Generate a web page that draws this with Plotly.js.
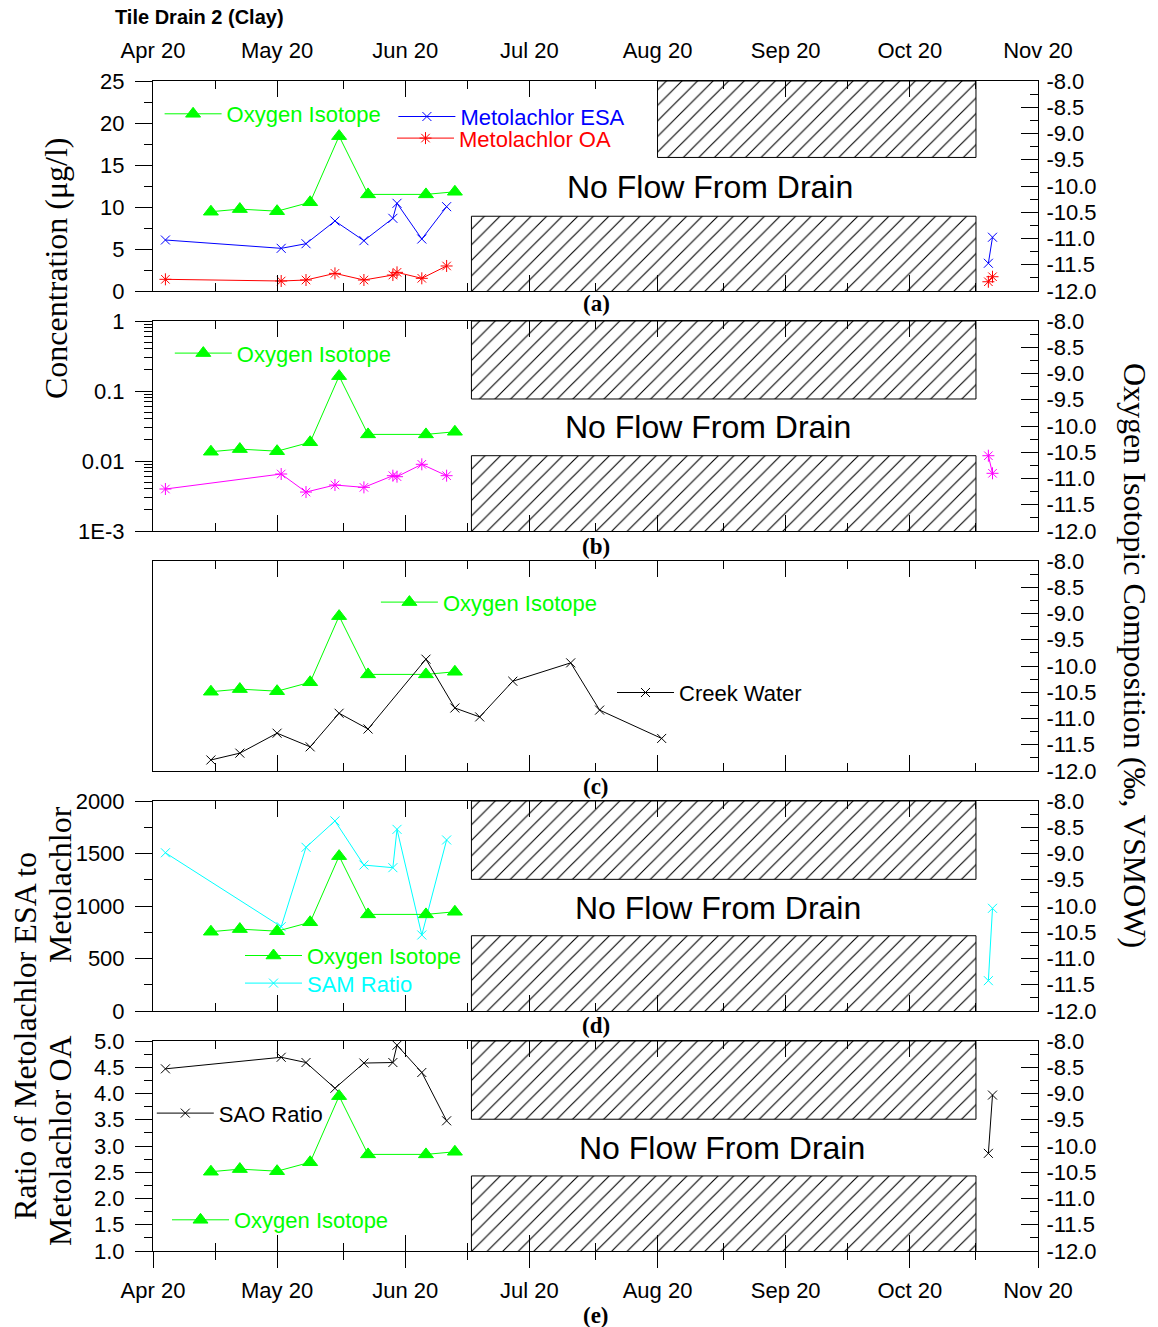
<!DOCTYPE html>
<html><head><meta charset="utf-8">
<script src="https://cdn.plot.ly/plotly-3.0.1.min.js"></script>
<style>body{margin:0;background:#fff}</style>
</head><body>
<div id="chart" style="width:1158px;height:1327px"></div>
<script>
// ---------- axis tick labels ----------
const monthTickVals = ['2000-04-20','2000-05-20','2000-06-20','2000-07-20','2000-08-20','2000-09-20','2000-10-20','2000-11-20'];
const monthTickText = ['Apr 20','May 20','Jun 20','Jul 20','Aug 20','Sep 20','Oct 20','Nov 20'];
const monthMinorVals = ['2000-05-05','2000-06-05','2000-07-05','2000-08-05','2000-09-05','2000-10-05','2000-11-05'];
const isoTickVals = [-12,-11.5,-11,-10.5,-10,-9.5,-9,-8.5,-8];
const isoTickText = ['-12.0','-11.5','-11.0','-10.5','-10.0','-9.5','-9.0','-8.5','-8.0'];
const concTickVals = [0,5,10,15,20,25];
const logTickVals = [0.001,0.01,0.1,1];
const logTickText = ['1E-3','0.01','0.1','1'];
const logMinorVals = [0.002,0.003,0.004,0.005,0.006,0.007,0.008,0.009,0.02,0.03,0.04,0.05,0.06,0.07,0.08,0.09,0.2,0.3,0.4,0.5,0.6,0.7,0.8,0.9];
const samTickVals = [0,500,1000,1500,2000];
const samTickText = ['0','500','1000','1500','2000'];
const saoTickVals = [1,1.5,2,2.5,3,3.5,4,4.5,5];
const saoTickText = ['1.0','1.5','2.0','2.5','3.0','3.5','4.0','4.5','5.0'];

// ---------- data ----------
const isoDates = ['2000-05-04','2000-05-11','2000-05-20','2000-05-28','2000-06-04','2000-06-11','2000-06-25','2000-07-02'];
const oxygenIsotope = [-10.49,-10.44,-10.48,-10.31,-9.05,-10.16,-10.16,-10.11];

const sampleDates = ['2000-04-23','2000-05-21','2000-05-27','2000-06-03','2000-06-10','2000-06-17','2000-06-18','2000-06-24','2000-06-30'];
const lateDates = ['2000-11-08','2000-11-09'];

const metolachlorESA = [6.07,5.08,5.63,8.33,5.99,8.65,10.44,6.19,10.04];
const metolachlorESALate = [3.3,6.4];
const metolachlorOA = [1.39,1.19,1.31,2.10,1.31,1.90,2.22,1.51,2.98];
const metolachlorOALate = [1.1,1.7];
const metolachlor = [0.00398,0.00652,0.0036,0.00454,0.0042,0.00617,0.00597,0.00897,0.00617];
const metolachlorLate = [0.0119,0.00667];
const samRatio = [1507,803,1559,1810,1390,1365,1730,724,1629];
const samRatioLate = [289,978];
const saoRatio = [4.47,4.69,4.59,4.10,4.58,4.59,4.92,4.40,3.48];
const saoRatioLate = [2.86,3.97];

const creekDates = ['2000-05-04','2000-05-11','2000-05-20','2000-05-28','2000-06-04','2000-06-11','2000-06-25','2000-07-02','2000-07-08','2000-07-16','2000-07-30','2000-08-06','2000-08-21'];
const creekWater = [-11.79,-11.66,-11.28,-11.54,-10.90,-11.20,-9.87,-10.80,-10.97,-10.29,-9.94,-10.84,-11.38];

// no-flow (hatched) periods, in data units of each panel's left axis
const noFlowStart = '2000-07-06';
const noFlowStartUpperA = '2000-08-20';
const noFlowEnd = '2000-11-05';
const noFlowA = {upper:[15.9,25], lower:[-0.3,8.9]};
const noFlowB = {upper:[0.0769,1], lower:[0.0009,0.0119]};
const noFlowD = {upper:[1254,2000], lower:[-20,717]};
const noFlowE = {upper:[3.51,5], lower:[0.96,2.43]};

// ---------- styles ----------
const GREEN='#00ff00', BLUE='#0000ff', RED='#ff0000', MAGENTA='#ff00ff', CYAN='#00ffff', BLACK='#000000';
const SANS='Liberation Sans, Arial, sans-serif';
const SERIF='Liberation Serif, Times New Roman, serif';
const TICKFONT={family:SANS,size:22,color:'#000'};
const LEGFONT=22;

function hatch(x0,x1,yr,xa,ya){
  return {x:[x0,x1,x1,x0,x0], y:[yr[0],yr[0],yr[1],yr[1],yr[0]], xaxis:xa, yaxis:ya,
    type:'scatter', mode:'lines', fill:'toself', line:{color:'#000',width:1},
    fillcolor:'white',
    fillpattern:{shape:'/', size:11, solidity:0.1, fgcolor:'#000', bgcolor:'#fff'},
    hoverinfo:'skip', showlegend:false};
}
function series(x,y,xa,ya,color,symbol,size,name,legend,show){
  return {x:x,y:y,xaxis:xa,yaxis:ya,type:'scatter',mode:'lines+markers',name:name,
    legend:legend,showlegend:show,
    line:{color:color,width:1},
    marker:{color:color,symbol:symbol,size:size,line:{color:color,width:1}},
    cliponaxis:false};
}
function oxy(xa,ya,legend){
  return series(isoDates,oxygenIsotope,xa,ya,GREEN,'triangle-up',13,'Oxygen Isotope',legend,true);
}
function empty(xa,ya){
  return {x:[],y:[],xaxis:xa,yaxis:ya,type:'scatter',mode:'lines',showlegend:false,hoverinfo:'skip'};
}

const traces = [
  empty('x3','y5'),
  hatch(noFlowStartUpperA,noFlowEnd,noFlowA.upper,'x','y'),
  hatch(noFlowStart,noFlowEnd,noFlowA.lower,'x','y'),
  hatch(noFlowStart,noFlowEnd,noFlowB.upper,'x2','y3'),
  hatch(noFlowStart,noFlowEnd,noFlowB.lower,'x2','y3'),
  hatch(noFlowStart,noFlowEnd,noFlowD.upper,'x4','y7'),
  hatch(noFlowStart,noFlowEnd,noFlowD.lower,'x4','y7'),
  hatch(noFlowStart,noFlowEnd,noFlowE.upper,'x5','y9'),
  hatch(noFlowStart,noFlowEnd,noFlowE.lower,'x5','y9'),
  // panel a
  series(sampleDates,metolachlorESA,'x','y',BLUE,'x-thin-open',9,'Metolachlor ESA','legend2',true),
  series(lateDates,metolachlorESALate,'x','y',BLUE,'x-thin-open',9,'Metolachlor ESA','legend2',false),
  series(sampleDates,metolachlorOA,'x','y',RED,'asterisk-open',10,'Metolachlor OA','legend3',true),
  series(lateDates,metolachlorOALate,'x','y',RED,'asterisk-open',10,'Metolachlor OA','legend3',false),
  oxy('x','y2','legend'),
  // panel b
  series(sampleDates,metolachlor,'x2','y3',MAGENTA,'asterisk-open',10,'Metolachlor','legend4',false),
  series(lateDates,metolachlorLate,'x2','y3',MAGENTA,'asterisk-open',10,'Metolachlor','legend4',false),
  oxy('x2','y4','legend4'),
  // panel c
  oxy('x3','y6','legend5'),
  series(creekDates,creekWater,'x3','y6',BLACK,'x-thin-open',9,'Creek Water','legend6',true),
  // panel d
  oxy('x4','y8','legend7'),
  series(sampleDates,samRatio,'x4','y7',CYAN,'x-thin-open',9,'SAM Ratio','legend8',true),
  series(lateDates,samRatioLate,'x4','y7',CYAN,'x-thin-open',9,'SAM Ratio','legend8',false),
  // panel e
  series(sampleDates,saoRatio,'x5','y9',BLACK,'x-thin-open',9,'SAO Ratio','legend9',true),
  series(lateDates,saoRatioLate,'x5','y9',BLACK,'x-thin-open',9,'SAO Ratio','legend9',false),
  oxy('x5','y10','legend10'),
  empty('x6','y9')
];

// ---------- layout ----------
const ML=153, MR=120, MT=81, MB=76, W=1158, H=1327;
const PW=W-ML-MR, PH=H-MT-MB;
const px2x = p => (p-ML)/PW;
const py2y = p => (H-MB-p)/PH;
const dom = (top,bot) => [py2y(bot), py2y(top)];
const panels = {a:dom(81,291), b:dom(321,531), c:dom(561,771), d:dom(801,1011), e:dom(1041,1251)};
const xRange = [monthTickVals[0], monthTickVals[monthTickVals.length-1]];

function xax(anchor, extra){
  return Object.assign({domain:[0,1], anchor:anchor, type:'date', range:xRange,
    tickmode:'array', tickvals:monthTickVals, ticktext:monthTickText,
    ticks:'inside', ticklen:16, tickwidth:1, tickcolor:'#000',
    minor:{tickmode:'array', tickvals:monthMinorVals, ticks:'inside', ticklen:8, tickwidth:1, tickcolor:'#000', showgrid:false},
    showline:true, linecolor:'#000', linewidth:1, mirror:'ticks',
    showgrid:false, zeroline:false, showticklabels:false, tickfont:TICKFONT, fixedrange:true}, extra||{});
}
function yLeft(domain, anchor, extra){
  return Object.assign({domain:domain, anchor:anchor, side:'left',
    ticks:'outside', ticklen:17, tickwidth:1, tickcolor:'#000',
    showline:true, linecolor:'#000', linewidth:1, showgrid:false, zeroline:false,
    tickfont:TICKFONT, ticklabelstandoff:6, fixedrange:true}, extra);
}
function yRight(domain, overlay, anchor){
  return {domain:domain, overlaying:overlay, anchor:anchor, side:'right', range:[-12,-8],
    tickmode:'array', tickvals:isoTickVals, ticktext:isoTickText,
    ticks:'inside', ticklen:17, tickwidth:1, tickcolor:'#000',
    minor:{dtick:0.25, tick0:-12, ticks:'inside', ticklen:8, tickwidth:1, tickcolor:'#000', showgrid:false},
    showline:true, linecolor:'#000', linewidth:1, showgrid:false, zeroline:false,
    tickfont:TICKFONT, ticklabelstandoff:3, fixedrange:true};
}

function leg(textStartPx, centerPy, color){
  return {x:px2x(textStartPx-69), y:py2y(centerPy), xref:'paper', yref:'paper',
    xanchor:'left', yanchor:'middle', bgcolor:'rgba(0,0,0,0)', borderwidth:0,
    font:{family:SANS, size:LEGFONT, color:color}, itemwidth:57, itemclick:false, itemdoubleclick:false,
    tracegroupgap:0};
}

const annFont = (s,c,f) => ({family:f||SANS, size:s, color:c||'#000'});
const annotations = [
  {text:'<b>Tile Drain 2 (Clay)</b>', x:px2x(113), y:py2y(17), xanchor:'left', yanchor:'middle', font:annFont(20)},
  {text:'Concentration (μg/l)', x:px2x(56), y:py2y(268), textangle:-90, font:annFont(32,'#000',SERIF)},
  {text:'Ratio of Metolachlor ESA to', x:px2x(25), y:py2y(1036), textangle:-90, font:annFont(32,'#000',SERIF)},
  {text:'Metolachlor', x:px2x(60), y:py2y(885), textangle:-90, font:annFont(32,'#000',SERIF)},
  {text:'Metolachlor OA', x:px2x(60), y:py2y(1141), textangle:-90, font:annFont(32,'#000',SERIF)},
  {text:'Oxygen Isotopic Composition (‰, VSMOW)', x:px2x(1135), y:py2y(655), textangle:90, font:annFont(32,'#000',SERIF)},
  {text:'<b>(a)</b>', x:px2x(596), y:py2y(303), font:annFont(23,'#000',SERIF)},
  {text:'<b>(b)</b>', x:px2x(596), y:py2y(546.7), font:annFont(23,'#000',SERIF)},
  {text:'<b>(c)</b>', x:px2x(596), y:py2y(786.7), font:annFont(23,'#000',SERIF)},
  {text:'<b>(d)</b>', x:px2x(596), y:py2y(1025), font:annFont(23,'#000',SERIF)},
  {text:'<b>(e)</b>', x:px2x(596), y:py2y(1315), font:annFont(23,'#000',SERIF)},
  {text:'No Flow From Drain', x:px2x(710), y:py2y(187), font:annFont(32)},
  {text:'No Flow From Drain', x:px2x(708), y:py2y(427), font:annFont(32)},
  {text:'No Flow From Drain', x:px2x(718), y:py2y(908), font:annFont(32)},
  {text:'No Flow From Drain', x:px2x(722), y:py2y(1148), font:annFont(32)}
].map(a => Object.assign({xref:'paper', yref:'paper', showarrow:false, xanchor:'center', yanchor:'middle'}, a));

const layout = {
  width:W, height:H, margin:{l:ML, r:MR, t:MT, b:MB, pad:0},
  paper_bgcolor:'#fff', plot_bgcolor:'rgba(0,0,0,0)',
  font:{family:SANS, size:21, color:'#000'},
  showlegend:true,
  xaxis: xax('y', {side:'top', showticklabels:true, ticklabelstandoff:13}),
  xaxis2: xax('y3', {matches:'x'}),
  xaxis3: xax('y5', {matches:'x'}),
  xaxis4: xax('y7', {matches:'x'}),
  xaxis5: xax('y9', {matches:'x', side:'bottom', ticks:'outside', mirror:false, showticklabels:true, ticklabelstandoff:4,
                     minor:{tickmode:'array', tickvals:monthMinorVals, ticks:'outside', ticklen:8, tickwidth:1, tickcolor:'#000', showgrid:false}}),
  xaxis6: xax('y9', {overlaying:'x5'}),
  yaxis: yLeft(panels.a,'x',{range:[0,25], tickmode:'array', tickvals:concTickVals,
          minor:{dtick:2.5, tick0:0, ticks:'outside', ticklen:8, tickwidth:1, tickcolor:'#000', showgrid:false}}),
  yaxis2: yRight(panels.a,'y','x'),
  yaxis3: yLeft(panels.b,'x2',{type:'log', range:[-3,0], tickmode:'array', tickvals:logTickVals, ticktext:logTickText,
          minor:{tickmode:'array', tickvals:logMinorVals, ticks:'outside', ticklen:8, tickwidth:1, tickcolor:'#000', showgrid:false}}),
  yaxis4: yRight(panels.b,'y3','x2'),
  yaxis5: yLeft(panels.c,'x3',{range:[0,1], ticks:'', showticklabels:false}),
  yaxis6: yRight(panels.c,'y5','x3'),
  yaxis7: yLeft(panels.d,'x4',{range:[0,2000], tickmode:'array', tickvals:samTickVals, ticktext:samTickText,
          minor:{dtick:250, tick0:0, ticks:'outside', ticklen:8, tickwidth:1, tickcolor:'#000', showgrid:false}}),
  yaxis8: yRight(panels.d,'y7','x4'),
  yaxis9: yLeft(panels.e,'x5',{range:[1,5], tickmode:'array', tickvals:saoTickVals, ticktext:saoTickText,
          minor:{dtick:0.25, tick0:1, ticks:'outside', ticklen:8, tickwidth:1, tickcolor:'#000', showgrid:false}}),
  yaxis10: yRight(panels.e,'y9','x5'),
  legend: leg(228.6,114,GREEN),
  legend2: leg(462.4,116.7,BLUE),
  legend3: leg(461,138.3,RED),
  legend4: leg(238.8,353.3,GREEN),
  legend5: leg(444.9,602.3,GREEN),
  legend6: leg(681,692.7,BLACK),
  legend7: leg(309,955.7,GREEN),
  legend8: leg(309,983.3,CYAN),
  legend9: leg(220.8,1113.3,BLACK),
  legend10: leg(236,1220,GREEN),
  annotations: annotations
};

Plotly.newPlot('chart', traces, layout, {staticPlot:true, displayModeBar:false});
</script>
</body></html>
